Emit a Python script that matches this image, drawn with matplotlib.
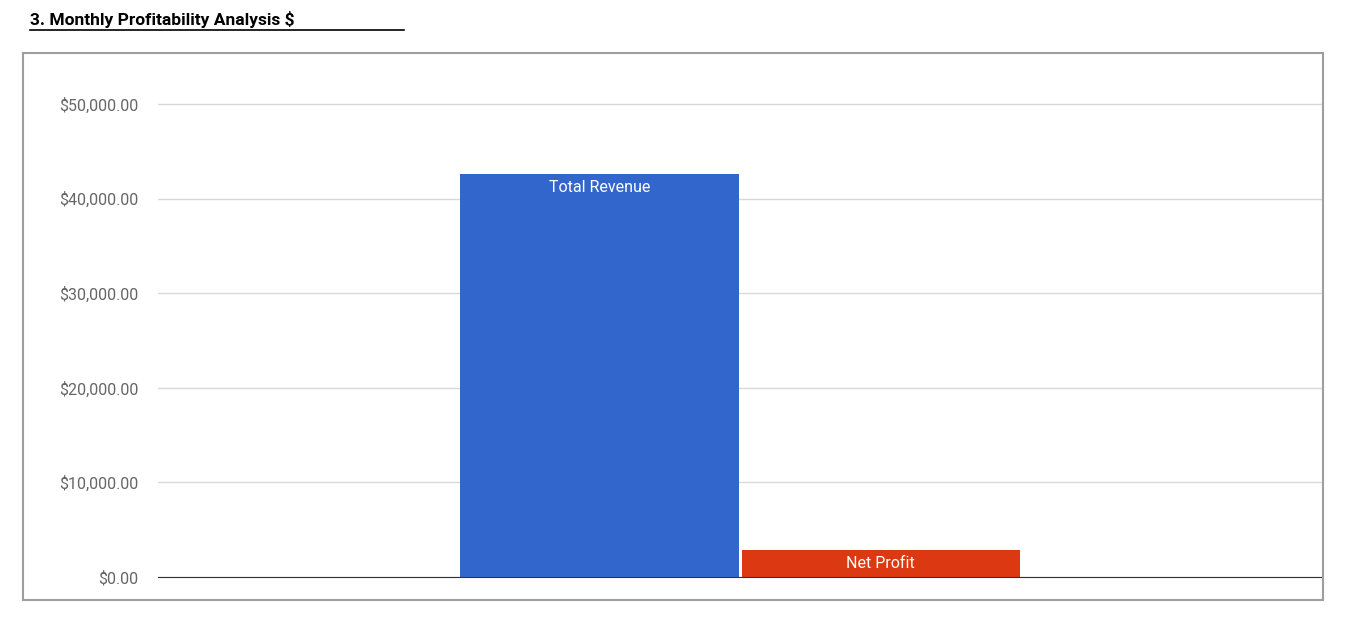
import matplotlib.pyplot as plt
from matplotlib.patches import Rectangle
from matplotlib.ticker import FuncFormatter

series = ['Total Revenue', 'Net Profit']
values = [42600, 2850]
colors = ['#3366cc', '#dc3912']
ticks = [0, 10000, 20000, 30000, 40000, 50000]

W, H = 1364, 626
fig = plt.figure(figsize=(W / 100, H / 100), dpi=100)
plt.rcParams['font.family'] = ['Roboto', 'DejaVu Sans']

# outer chart frame
fig.patches.append(Rectangle((23 / W, 1 - 600 / H), 1300 / W, 547 / H,
                             transform=fig.transFigure, fill=False,
                             edgecolor='#9e9e9e', linewidth=1.5))

fig.text(30 / W, 1 - 20 / H, '3. Monthly Profitability Analysis $',
         fontsize=12.5, fontweight='bold', va='center', ha='left')
fig.add_artist(plt.Line2D([30 / W, 404 / W], [1 - 30 / H, 1 - 30 / H],
                          transform=fig.transFigure, color='black', lw=1.2))

# y=0 at 577px, 50000 at 104px
y0, y50 = 577, 104
ytop = 1 - (y0 - (y0 - y50) * 52000 / 50000) / H
ax = fig.add_axes([158 / W, 1 - y0 / H, (1322 - 158) / W, ytop - (1 - y0 / H)])
ax.set_ylim(0, 52000)
ax.set_xlim(0, 1)

bw = 278 / (1322 - 158)
gap = 3 / (1322 - 158)
starts = [0.5 - bw - gap / 2, 0.5 + gap / 2]
for s, v, c, name in zip(starts, values, colors, series):
    ax.bar(s, v, width=bw, align='edge', color=c, zorder=3)
    ax.text(s + bw / 2, v - 600, name, ha='center', va='top',
            color='white', fontsize=11.5, zorder=4)

ax.set_yticks(ticks)
ax.yaxis.set_major_formatter(FuncFormatter(lambda v, p: f'${v:,.2f}'))
ax.tick_params(axis='y', length=0, labelsize=11.5, labelcolor='#666666', pad=14)
ax.set_xticks([])
ax.grid(axis='y', color='#d9d9d9', linewidth=1, zorder=0)
for sp in ['top', 'right', 'left']:
    ax.spines[sp].set_visible(False)
ax.spines['bottom'].set_color('#333333')
ax.spines['bottom'].set_zorder(5)

fig.savefig('out.png', dpi=100)
